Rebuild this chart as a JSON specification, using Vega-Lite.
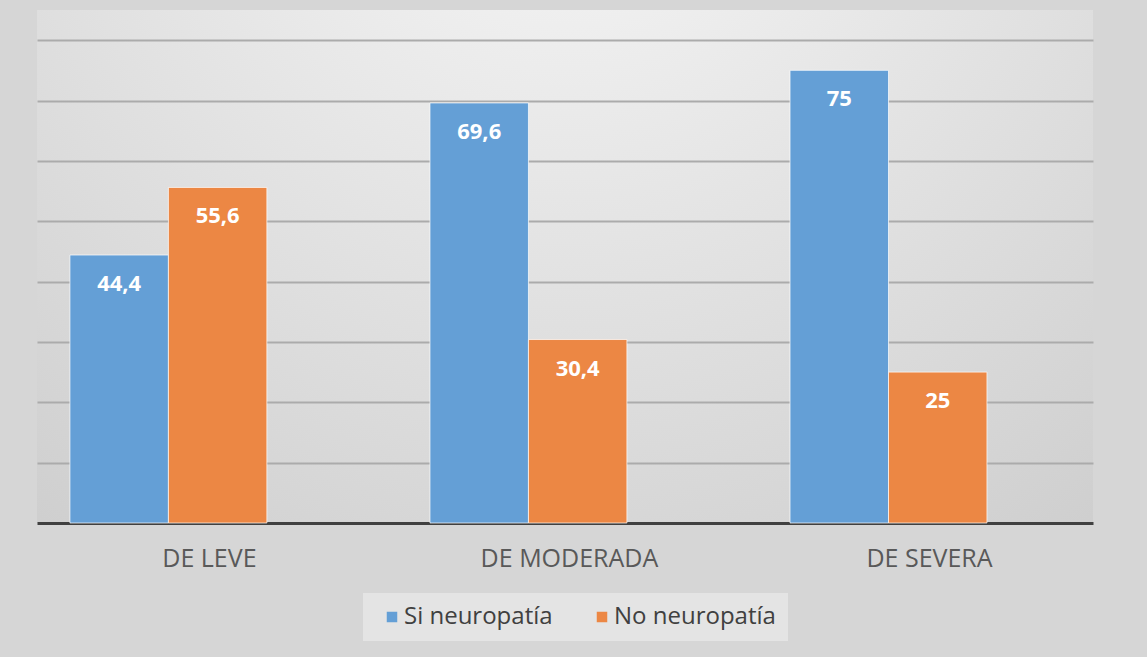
{
  "$schema": "https://vega.github.io/schema/vega-lite/v6.json",
  "width": 1056,
  "height": 513,
  "autosize": {"type": "none"},
  "padding": {"left": 37, "top": 10, "right": 54, "bottom": 134},
  "background": "#d6d6d6",
  "data": {
    "values": [
      {"cat": "DE LEVE", "serie": "Si neuropatía", "valor": 44.4, "etiqueta": "44,4"},
      {"cat": "DE LEVE", "serie": "No neuropatía", "valor": 55.6, "etiqueta": "55,6"},
      {"cat": "DE MODERADA", "serie": "Si neuropatía", "valor": 69.6, "etiqueta": "69,6"},
      {"cat": "DE MODERADA", "serie": "No neuropatía", "valor": 30.4, "etiqueta": "30,4"},
      {"cat": "DE SEVERA", "serie": "Si neuropatía", "valor": 75, "etiqueta": "75"},
      {"cat": "DE SEVERA", "serie": "No neuropatía", "valor": 25, "etiqueta": "25"}
    ]
  },
  "encoding": {
    "x": {
      "field": "cat",
      "type": "nominal",
      "sort": ["DE LEVE", "DE MODERADA", "DE SEVERA"],
      "scale": {"paddingInner": 0.453, "paddingOuter": 0.193, "align": 0.237},
      "axis": {
        "title": null,
        "labelAngle": 0,
        "labelFont": "Open Sans",
        "labelFontSize": 25,
        "labelColor": "#595959",
        "labelPadding": 23,
        "labelOffset": 41,
        "labelLimit": 400,
        "ticks": false,
        "domainColor": "#404040",
        "domainWidth": 3
      }
    },
    "xOffset": {
      "field": "serie",
      "type": "nominal",
      "sort": ["Si neuropatía", "No neuropatía"],
      "scale": {"paddingInner": 0, "paddingOuter": 0}
    },
    "y": {
      "field": "valor",
      "type": "quantitative",
      "scale": {"domain": [0, 85], "nice": false},
      "axis": {
        "title": null,
        "labels": false,
        "ticks": false,
        "domain": false,
        "values": [10, 20, 30, 40, 50, 60, 70, 80],
        "gridColor": "#ababab",
        "gridWidth": 2
      }
    }
  },
  "layer": [
    {
      "mark": {"type": "bar", "stroke": "#ffffff", "strokeWidth": 1, "strokeOpacity": 0.7},
      "encoding": {
        "color": {
          "field": "serie",
          "type": "nominal",
          "scale": {"domain": ["Si neuropatía", "No neuropatía"], "range": ["#649fd6", "#ec8744"]},
          "legend": {
            "title": null,
            "orient": "none",
            "legendX": 326,
            "legendY": 583,
            "direction": "horizontal",
            "fillColor": "#e4e4e4",
            "padding": 12,
            "symbolType": "square",
            "symbolSize": 110,
            "symbolOffset": 5,
            "symbolStrokeWidth": 0,
            "labelFont": "Open Sans",
            "labelFontSize": 24,
            "labelColor": "#404040",
            "labelOffset": 0,
            "labelLimit": 400,
            "columnPadding": 32
          }
        }
      }
    },
    {
      "mark": {
        "type": "text",
        "dy": 29,
        "baseline": "middle",
        "color": "#ffffff",
        "font": "Open Sans",
        "fontWeight": "bold",
        "fontSize": 22
      },
      "encoding": {"text": {"field": "etiqueta"}}
    }
  ],
  "config": {
    "view": {
      "stroke": null,
      "fill": {
        "gradient": "radial",
        "x1": 0.5, "y1": 0.05, "r1": 0,
        "x2": 0.5, "y2": 0.05, "r2": 0.85,
        "stops": [
          {"offset": 0, "color": "#f9f9f9"},
          {"offset": 1, "color": "#cfcfcf"}
        ]
      }
    }
  }
}
